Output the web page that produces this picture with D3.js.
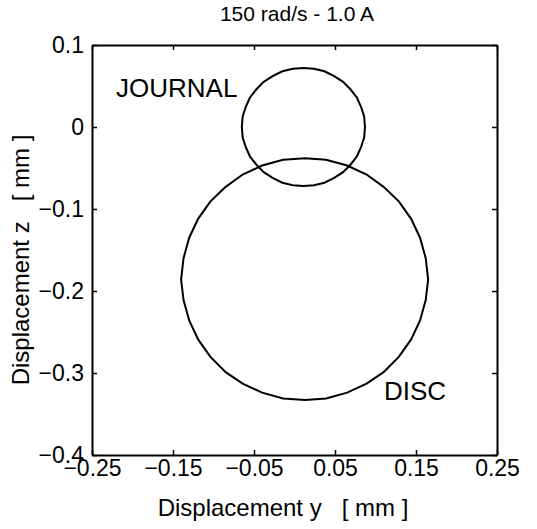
<!DOCTYPE html>
<html>
<head>
<meta charset="utf-8">
<script src="https://cdn.jsdelivr.net/npm/d3@7"></script>
<style>
  body { margin: 0; background: #fff; }
  text { font-family: "Liberation Sans", Arial, sans-serif; fill: #000; }
</style>
</head>
<body>
<div id="chart"></div>
<script>
// Chart size
let svgWidth = 537;
let svgHeight = 529;
let margins = { top: 45, bottom: 74, left: 92, right: 40 };
let plotWidth = svgWidth - margins.left - margins.right;
let plotHeight = svgHeight - margins.top - margins.bottom;

// Data, displacement in mm
let xTicks = [-0.25, -0.15, -0.05, 0.05, 0.15, 0.25];
let yTicks = [0.1, 0, -0.1, -0.2, -0.3, -0.4];

let journalY = [0.087, 0.086, 0.082, 0.077, 0.069, 0.060, 0.049, 0.037, 0.024, 0.011, -0.002, -0.015, -0.027, -0.038, -0.047, -0.055, -0.060, -0.064,
                -0.065, -0.064, -0.060, -0.055, -0.047, -0.038, -0.027, -0.015, -0.002, 0.011, 0.024, 0.037, 0.049, 0.060, 0.069, 0.077, 0.082, 0.086];
let journalZ = [0.000, 0.013, 0.025, 0.036, 0.046, 0.055, 0.062, 0.068, 0.071, 0.072, 0.071, 0.068, 0.062, 0.055, 0.046, 0.036, 0.025, 0.013,
                0.000, -0.013, -0.025, -0.036, -0.046, -0.055, -0.062, -0.068, -0.071, -0.072, -0.071, -0.068, -0.062, -0.055, -0.046, -0.036, -0.025, -0.013];

let discY = [0.165, 0.162, 0.155, 0.144, 0.129, 0.110, 0.089, 0.065, 0.039, 0.013, -0.014, -0.040, -0.064, -0.085, -0.104, -0.119, -0.130, -0.137,
             -0.140, -0.137, -0.130, -0.119, -0.104, -0.085, -0.064, -0.040, -0.014, 0.013, 0.039, 0.065, 0.089, 0.110, 0.129, 0.144, 0.155, 0.162];
let discZ = [-0.186, -0.160, -0.135, -0.112, -0.091, -0.073, -0.058, -0.047, -0.040, -0.038, -0.040, -0.047, -0.058, -0.073, -0.091, -0.112, -0.135, -0.160,
             -0.186, -0.211, -0.236, -0.259, -0.280, -0.299, -0.313, -0.324, -0.331, -0.333, -0.331, -0.324, -0.313, -0.299, -0.280, -0.259, -0.236, -0.211];

let svg = d3.select('#chart').append('svg')
    .attr('width', svgWidth)
    .attr('height', svgHeight);
let chart = svg.append('g')
    .attr('transform', `translate(${margins.left}, ${margins.top})`);

let xScale = d3.scaleLinear().domain([-0.25, 0.25]).range([0, plotWidth]);
let yScale = d3.scaleLinear().domain([-0.4, 0.1]).range([plotHeight, 0]);

let fmt = d3.format('');

// Axes: ticks point inward, box on all sides
let xBottom = d3.axisBottom(xScale).tickValues(xTicks).tickSizeInner(-5).tickSizeOuter(0).tickPadding(5).tickFormat(fmt);
let xTop = d3.axisTop(xScale).tickValues(xTicks).tickSizeInner(-5).tickSizeOuter(0).tickFormat('');
let yLeft = d3.axisLeft(yScale).tickValues(yTicks).tickSizeInner(-5).tickSizeOuter(0).tickPadding(8).tickFormat(fmt);
let yRight = d3.axisRight(yScale).tickValues(yTicks).tickSizeInner(-5).tickSizeOuter(0).tickFormat('');

let gxb = chart.append('g').attr('transform', `translate(0, ${plotHeight})`).call(xBottom);
let gxt = chart.append('g').call(xTop);
let gyl = chart.append('g').call(yLeft);
let gyr = chart.append('g').attr('transform', `translate(${plotWidth}, 0)`).call(yRight);

[gxb, gxt, gyl, gyr].forEach(g => {
    g.select('.domain').attr('stroke', '#000').attr('stroke-width', 2);
    g.selectAll('.tick line').attr('stroke', '#000').attr('stroke-width', 1.5);
    g.selectAll('.tick text').style('font-size', '23px').attr('fill', '#000');
});

// Orbits
let line = d3.line().x(d => xScale(d[0])).y(d => yScale(d[1])).curve(d3.curveLinearClosed);
chart.append('path')
    .datum(journalY.map((v, i) => [v, journalZ[i]]))
    .attr('d', line)
    .attr('fill', 'none').attr('stroke', '#000').attr('stroke-width', 2);
chart.append('path')
    .datum(discY.map((v, i) => [v, discZ[i]]))
    .attr('d', line)
    .attr('fill', 'none').attr('stroke', '#000').attr('stroke-width', 2);

// Annotations
chart.append('text').attr('x', 24).attr('y', 52).style('font-size', '26px').text('JOURNAL');
chart.append('text').attr('x', 292).attr('y', 355).style('font-size', '26px').text('DISC');

// Title and axis labels
svg.append('text')
    .attr('x', 297).attr('y', 21)
    .attr('text-anchor', 'middle').style('font-size', '21px')
    .text('150 rad/s - 1.0 A');
svg.append('text')
    .attr('x', 283).attr('y', 516)
    .attr('text-anchor', 'middle').style('font-size', '24px')
    .style('white-space', 'pre')
    .text('Displacement y   [ mm ]');
svg.append('text')
    .attr('transform', `translate(29, 260) rotate(-90)`)
    .attr('text-anchor', 'middle').style('font-size', '24px')
    .style('white-space', 'pre')
    .text('Displacement z   [ mm ]');
</script>
</body>
</html>
